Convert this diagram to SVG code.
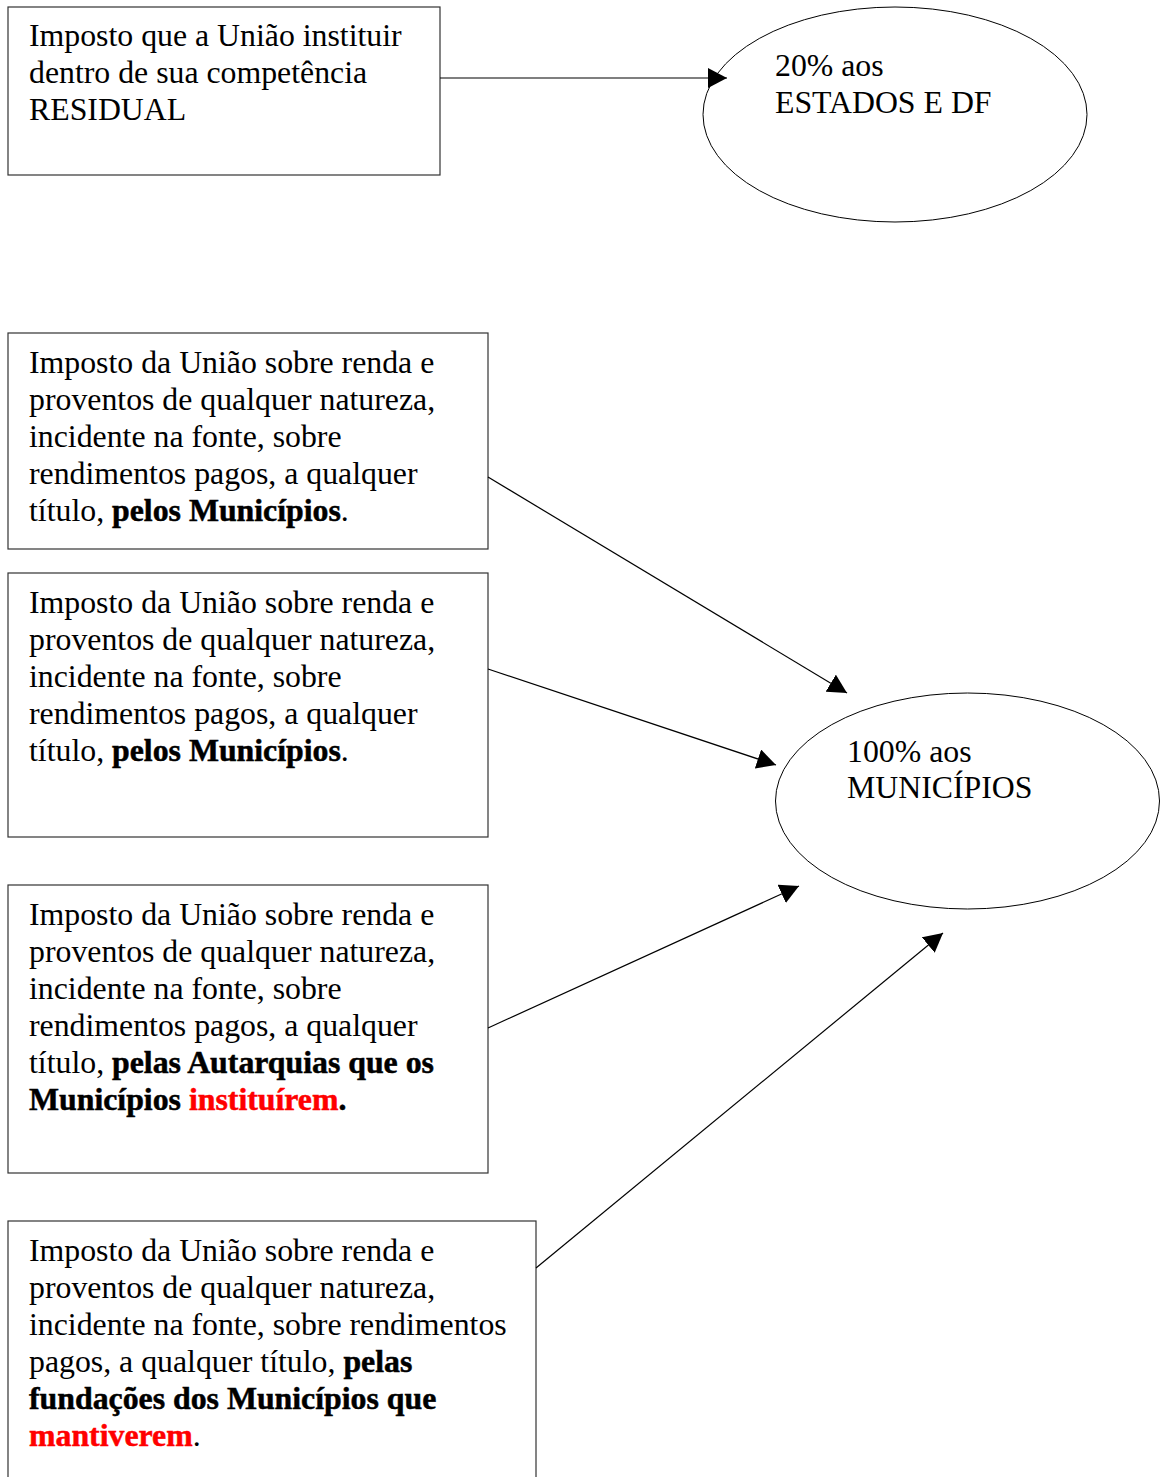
<svg xmlns="http://www.w3.org/2000/svg" width="1160" height="1477" viewBox="0 0 1160 1477">
<style>
.box{fill:#fff;stroke:#333;stroke-width:1.2}
.ell{fill:#fff;stroke:#000;stroke-width:1}
.t{font-family:"Liberation Serif","Times New Roman",serif;font-size:31.8px;fill:#000}
.b{font-weight:bold;stroke:#000;stroke-width:0.5}
.r{fill:#ff0000;stroke:#ff0000}
.ln{stroke:#000;stroke-width:1.2;fill:none}
</style>
<defs>
<marker id="ah" markerWidth="20" markerHeight="20" refX="19" refY="10" orient="auto" markerUnits="userSpaceOnUse">
<path d="M0,0 L19,10 L0,20 Z" fill="#000"/>
</marker>
</defs>
<rect width="1160" height="1477" fill="#fff"/>
<g id="n1">
<rect class="box" x="8" y="7" width="432" height="168"/>
<text class="t" x="29" y="46">Imposto que a União instituir</text>
<text class="t" x="29" y="83">dentro de sua competência</text>
<text class="t" x="29" y="120">RESIDUAL</text>
</g>
<g id="e1">
<ellipse class="ell" cx="895" cy="114.5" rx="192" ry="107.5"/>
<text class="t" x="775" y="76">20%  aos</text>
<text class="t" x="775" y="113">ESTADOS E DF</text>
</g>
<g id="n2">
<rect class="box" x="8" y="333" width="480" height="216"/>
<text class="t" x="29" y="373">Imposto da União sobre renda e</text>
<text class="t" x="29" y="410">proventos de qualquer natureza,</text>
<text class="t" x="29" y="447">incidente na fonte, sobre</text>
<text class="t" x="29" y="484">rendimentos pagos, a qualquer</text>
<text class="t" x="29" y="521">título, <tspan class="b">pelos Municípios</tspan>.</text>
</g>
<g id="n3">
<rect class="box" x="8" y="573" width="480" height="264"/>
<text class="t" x="29" y="613">Imposto da União sobre renda e</text>
<text class="t" x="29" y="650">proventos de qualquer natureza,</text>
<text class="t" x="29" y="687">incidente na fonte, sobre</text>
<text class="t" x="29" y="724">rendimentos pagos, a qualquer</text>
<text class="t" x="29" y="761">título, <tspan class="b">pelos Municípios</tspan>.</text>
</g>
<g id="n4">
<rect class="box" x="8" y="885" width="480" height="288"/>
<text class="t" x="29" y="925">Imposto da União sobre renda e</text>
<text class="t" x="29" y="962">proventos de qualquer natureza,</text>
<text class="t" x="29" y="999">incidente na fonte, sobre</text>
<text class="t" x="29" y="1036">rendimentos pagos, a qualquer</text>
<text class="t" x="29" y="1073">título, <tspan class="b">pelas Autarquias que os</tspan></text>
<text class="t" x="29" y="1110"><tspan class="b">Municípios </tspan><tspan class="b r">instituírem</tspan><tspan class="b">.</tspan></text>
</g>
<g id="n5">
<rect class="box" x="8" y="1221" width="528" height="270"/>
<text class="t" x="29" y="1261">Imposto da União sobre renda e</text>
<text class="t" x="29" y="1298">proventos de qualquer natureza,</text>
<text class="t" x="29" y="1335">incidente na fonte, sobre rendimentos</text>
<text class="t" x="29" y="1372">pagos, a qualquer título, <tspan class="b">pelas</tspan></text>
<text class="t" x="29" y="1409"><tspan class="b">fundações dos Municípios que</tspan></text>
<text class="t" x="29" y="1446"><tspan class="b r">mantiverem</tspan>.</text>
</g>
<g id="e2">
<ellipse class="ell" cx="967.5" cy="801" rx="192" ry="108"/>
<text class="t" x="847" y="762">100%  aos</text>
<text class="t" x="847" y="798">MUNICÍPIOS</text>
</g>
<g id="connectors">
<line class="ln" x1="440" y1="78" x2="727" y2="78" marker-end="url(#ah)"/>
<line class="ln" x1="488" y1="477" x2="847" y2="693" marker-end="url(#ah)"/>
<line class="ln" x1="488" y1="669" x2="776" y2="765" marker-end="url(#ah)"/>
<line class="ln" x1="488" y1="1028" x2="799" y2="886" marker-end="url(#ah)"/>
<line class="ln" x1="536" y1="1268" x2="943" y2="933" marker-end="url(#ah)"/>
</g>
</svg>
